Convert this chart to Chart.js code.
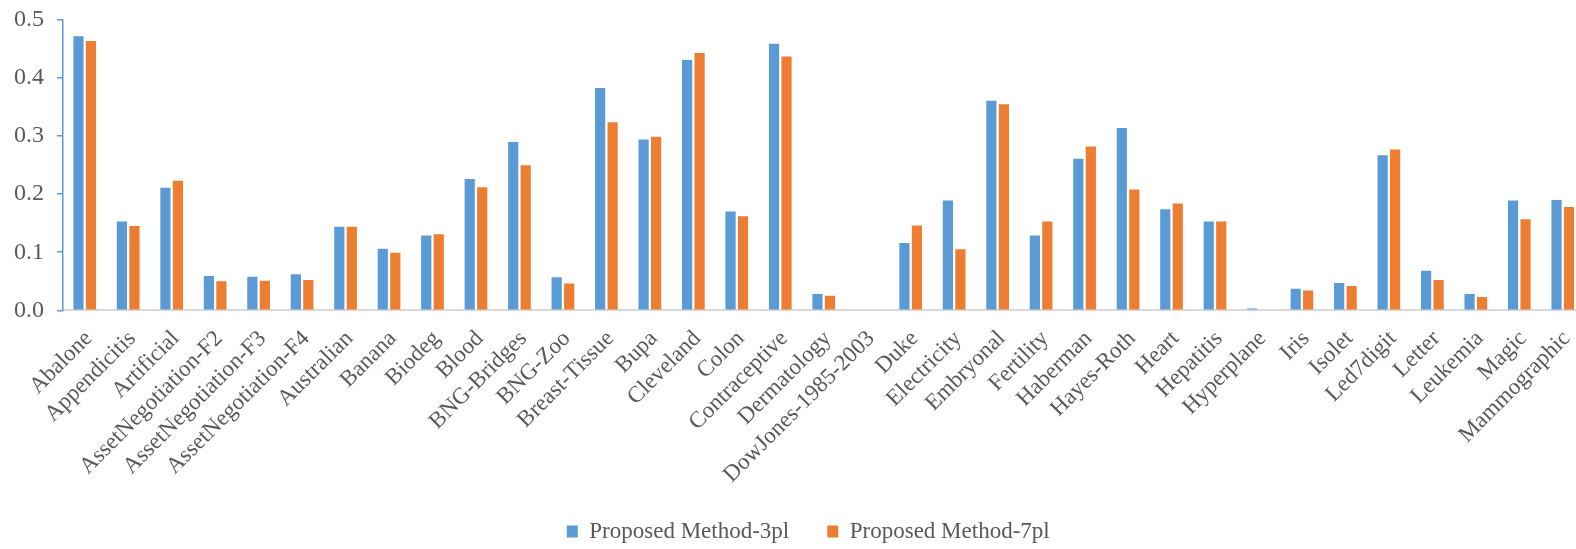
<!DOCTYPE html>
<html>
<head>
<meta charset="utf-8">
<script src="https://cdn.jsdelivr.net/npm/chart.js@4/dist/chart.umd.min.js"></script>
<style>
  html, body { margin: 0; padding: 0; background: #ffffff; overflow: hidden; }
  #wrap { position: relative; width: 1588px; height: 549px; }
</style>
</head>
<body>
<div id="wrap"><canvas id="chart" width="1588" height="549"></canvas></div>
<script>
// Datasets (one category per dataset name)
const categories = [
  'Abalone', 'Appendicitis', 'Artificial', 'AssetNegotiation-F2', 'AssetNegotiation-F3',
  'AssetNegotiation-F4', 'Australian', 'Banana', 'Biodeg', 'Blood', 'BNG-Bridges', 'BNG-Zoo',
  'Breast-Tissue', 'Bupa', 'Cleveland', 'Colon', 'Contraceptive', 'Dermatology',
  'DowJones-1985-2003', 'Duke', 'Electricity', 'Embryonal', 'Fertility', 'Haberman',
  'Hayes-Roth', 'Heart', 'Hepatitis', 'Hyperplane', 'Iris', 'Isolet', 'Led7digit', 'Letter',
  'Leukemia', 'Magic', 'Mammographic'
];

const seriesNames = ['Proposed Method-3pl', 'Proposed Method-7pl'];

const method3pl = [
  0.472, 0.153, 0.211, 0.059, 0.058, 0.062, 0.144, 0.106, 0.129, 0.226, 0.290, 0.057,
  0.383, 0.294, 0.431, 0.170, 0.459, 0.028, 0.000, 0.116, 0.189, 0.361, 0.129, 0.261,
  0.314, 0.174, 0.153, 0.003, 0.037, 0.047, 0.267, 0.068, 0.028, 0.189, 0.190
];

const method7pl = [
  0.464, 0.145, 0.223, 0.050, 0.051, 0.052, 0.144, 0.099, 0.131, 0.212, 0.250, 0.046,
  0.324, 0.299, 0.443, 0.162, 0.437, 0.025, 0.000, 0.146, 0.105, 0.355, 0.153, 0.282,
  0.208, 0.184, 0.153, 0.000, 0.034, 0.042, 0.277, 0.052, 0.023, 0.157, 0.178
];

const yTicks = [0, 0.1, 0.2, 0.3, 0.4, 0.5];

const colors = ['#5B9BD5', '#ED7D31'];
const textColor = '#595959';
const fontFamily = "'Liberation Serif', 'Times New Roman', serif";

// Legend row sits a little right of centre; the category axis keeps room for
// its longest rotated label even though the legend band overlaps it.
const layoutTweaks = {
  id: 'layoutTweaks',
  afterLayout(chart) {
    const lg = chart.legend;
    if (lg) { lg.left += 16; lg.right += 16; }
    const x = chart.scales.x;
    if (x) { x.bottom = chart.height; }
  }
};

new Chart(document.getElementById('chart'), {
  type: 'bar',
  data: {
    labels: categories,
    datasets: [
      { label: seriesNames[0], data: method3pl, backgroundColor: colors[0], borderWidth: 0 },
      { label: seriesNames[1], data: method7pl, backgroundColor: colors[1], borderWidth: 0 }
    ]
  },
  options: {
    responsive: false,
    animation: false,
    devicePixelRatio: 1,
    categoryPercentage: 0.575,
    barPercentage: 0.816,
    layout: { padding: { top: 20, right: 3.5, left: 0, bottom: 0 } },
    plugins: {
      tooltip: { enabled: false },
      legend: {
        position: 'bottom',
        maxHeight: 67,
        labels: {
          boxWidth: 11,
          boxHeight: 12,
          padding: 38,
          color: textColor,
          font: { family: fontFamily, size: 23 }
        }
      }
    },
    scales: {
      x: {
        grid: { display: false, drawTicks: false },
        border: { display: true, color: '#D9D9D9', width: 2 },
        ticks: {
          autoSkip: false,
          maxRotation: 45,
          minRotation: 45,
          padding: 15,
          labelOffset: 4,
          color: textColor,
          font: { family: fontFamily, size: 23 }
        },
        afterFit(scale) {
          scale.height = 171.7;
          scale.paddingLeft = 0;
          scale.paddingRight = 0;
        }
      },
      y: {
        min: 0,
        max: 0.5,
        afterBuildTicks(scale) { scale.ticks = yTicks.map(v => ({ value: v })); },
        grid: {
          drawOnChartArea: false,
          drawTicks: true,
          tickLength: 6,
          color: colors[0],
          lineWidth: 1.5
        },
        border: { display: true, color: colors[0], width: 1.5 },
        ticks: {
          padding: 13,
          color: textColor,
          font: { family: fontFamily, size: 24 },
          callback: v => Number(v).toFixed(1)
        },
        afterFit(scale) {
          scale.width = 63;
          scale.paddingTop = 0;
          scale.paddingBottom = 0;
        }
      }
    }
  },
  plugins: [layoutTweaks]
});
</script>
</body>
</html>
